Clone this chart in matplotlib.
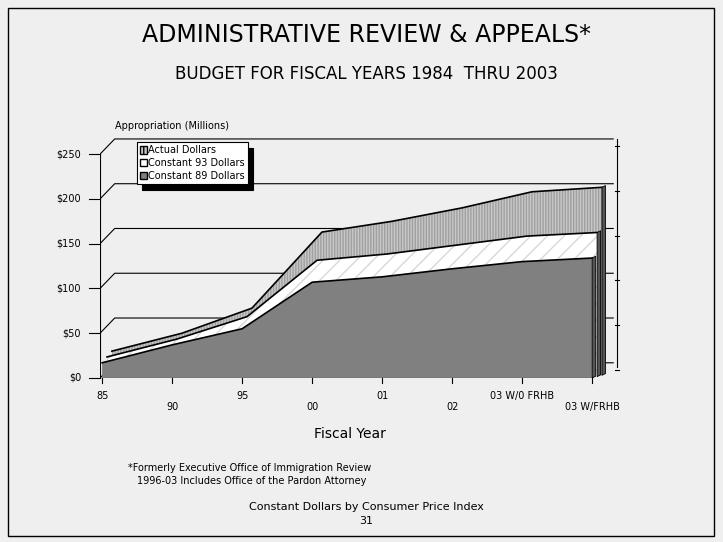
import numpy as np
import matplotlib.pyplot as plt
from matplotlib.patches import Rectangle, Polygon

categories = ["85", "90", "95", "00", "01", "02", "03 W/0 FRHB", "03 W/FRHB"]
actual = [27, 47, 75, 160, 172, 187, 205, 210]
const93 = [22, 42, 67, 130, 137, 147, 157, 161]
const89 = [17, 37, 55, 107, 113, 122, 130, 134]
yticks = [0, 50, 100, 150, 200, 250]
ylabels = ["$0", "$50", "$100", "$150", "$200", "$250"]

bg = "#efefef"
fig = plt.figure(figsize=(7.23, 5.42), dpi=100, facecolor=bg)
fig.patches.append(Rectangle((8 / 723, 6 / 542), 706 / 723, 528 / 542, transform=fig.transFigure,
                             fill=False, ec="black", lw=1))

ax = fig.add_axes([100 / 723, 1 - 378 / 542, 530 / 723, 248 / 542])
ax.set_facecolor(bg)
ax.set_xlim(-0.03, 7.54)
ax.set_ylim(0, 277)
for s in ax.spines.values():
    s.set_visible(False)
ax.set_xticks([])
ax.set_yticks([])

x = np.arange(len(categories))
ddx, ddy = 0.7, 17  # back wall depth offset

# 3D style gridlines
for v in yticks:
    ax.plot([-0.03, -0.03 + ddx * 0.7 / 0.7 * 0.3, 7.3], [v, v + ddy, v + ddy], color="black", lw=0.8, zorder=1)
ax.plot([-0.03, -0.03], [0, 250], color="black", lw=0.8, zorder=1)
ax.plot([7.35, 7.35], [ddy - 5, 250 + ddy], color="black", lw=0.8, zorder=1)
for v in yticks:
    ax.plot([7.32, 7.38], [v + ddy - 8, v + ddy - 8], color="black", lw=0.8)
ax.plot([-0.03, 7.0], [0, 0], color="black", lw=0.8, zorder=5)

series = [(actual, 0.14, 3, "#c8c8c8", "||||||", "#a0a0a0"),
          (const93, 0.07, 1.5, "white", "//", "#d8d8d8"),
          (const89, 0.0, 0.0, "#808080", None, None)]
for vals, ox, oy, fc, hatch, hc in series:
    xs = x + ox
    ys = np.array(vals) + oy
    top = np.array(vals)
    pts = [(xs[0], oy)] + list(zip(xs, ys)) + [(xs[-1], oy)]
    ax.add_patch(Polygon(pts, closed=True, fc=fc, ec="none", zorder=2))
    if hatch:
        plt.rcParams["hatch.color"] = hc
        ax.add_patch(Polygon(pts, closed=True, fill=False, hatch=hatch, ec=hc, lw=0, zorder=2))
    ax.plot(xs, ys, color="black", lw=1.2, zorder=3)
    ax.add_patch(Polygon([(xs[-1], oy), (xs[-1], ys[-1]), (xs[-1] + 0.05, ys[-1] + 2), (xs[-1] + 0.05, oy + 2)],
                         closed=True, fc="#555555", ec="black", lw=0.6, zorder=3))

for i, lab in enumerate(categories):
    ax.plot([i, i], [0, -6], color="black", lw=0.8, clip_on=False)
    ax.text(i, -14 if i % 2 == 0 else -27, lab, ha="center", va="top", fontsize=7)
for v, lab in zip(yticks, ylabels):
    ax.plot([-0.18, -0.03], [v, v], color="black", lw=0.8, clip_on=False)
    ax.text(-0.3, v, lab, ha="right", va="center", fontsize=7)

handles = [Rectangle((0, 0), 1, 1, fc="#c8c8c8", ec="black", hatch="||||"),
           Rectangle((0, 0), 1, 1, fc="white", ec="black"),
           Rectangle((0, 0), 1, 1, fc="#808080", ec="black")]
leg = ax.legend(handles, ["Actual Dollars", "Constant 93 Dollars", "Constant 89 Dollars"],
                loc="upper left", bbox_to_anchor=(0.06, 0.97), fontsize=7, fancybox=False,
                framealpha=1, edgecolor="black", handlelength=0.8, handleheight=0.8,
                handletextpad=0.1, labelspacing=0.3, borderpad=0.3,
                shadow={"color": "black", "ox": 4, "oy": -4, "alpha": 1})
leg.get_frame().set_linewidth(0.8)

fig.text(366 / 723, 1 - 35 / 542, "ADMINISTRATIVE REVIEW & APPEALS*", ha="center", va="center", fontsize=17)
fig.text(366 / 723, 1 - 74 / 542, "BUDGET FOR FISCAL YEARS 1984  THRU 2003", ha="center", va="center", fontsize=12)
fig.text(115 / 723, 1 - 126 / 542, "Appropriation (Millions)", ha="left", va="center", fontsize=7)
fig.text(350 / 723, 1 - 434 / 542, "Fiscal Year", ha="center", va="center", fontsize=10)
fig.text(128 / 723, 1 - 468 / 542, "*Formerly Executive Office of Immigration Review", ha="left", va="center", fontsize=7)
fig.text(137 / 723, 1 - 481 / 542, "1996-03 Includes Office of the Pardon Attorney", ha="left", va="center", fontsize=7)
fig.text(366 / 723, 1 - 507 / 542, "Constant Dollars by Consumer Price Index", ha="center", va="center", fontsize=8)
fig.text(366 / 723, 1 - 521 / 542, "31", ha="center", va="center", fontsize=8)

fig.savefig("out.png", dpi=100, facecolor=bg)
